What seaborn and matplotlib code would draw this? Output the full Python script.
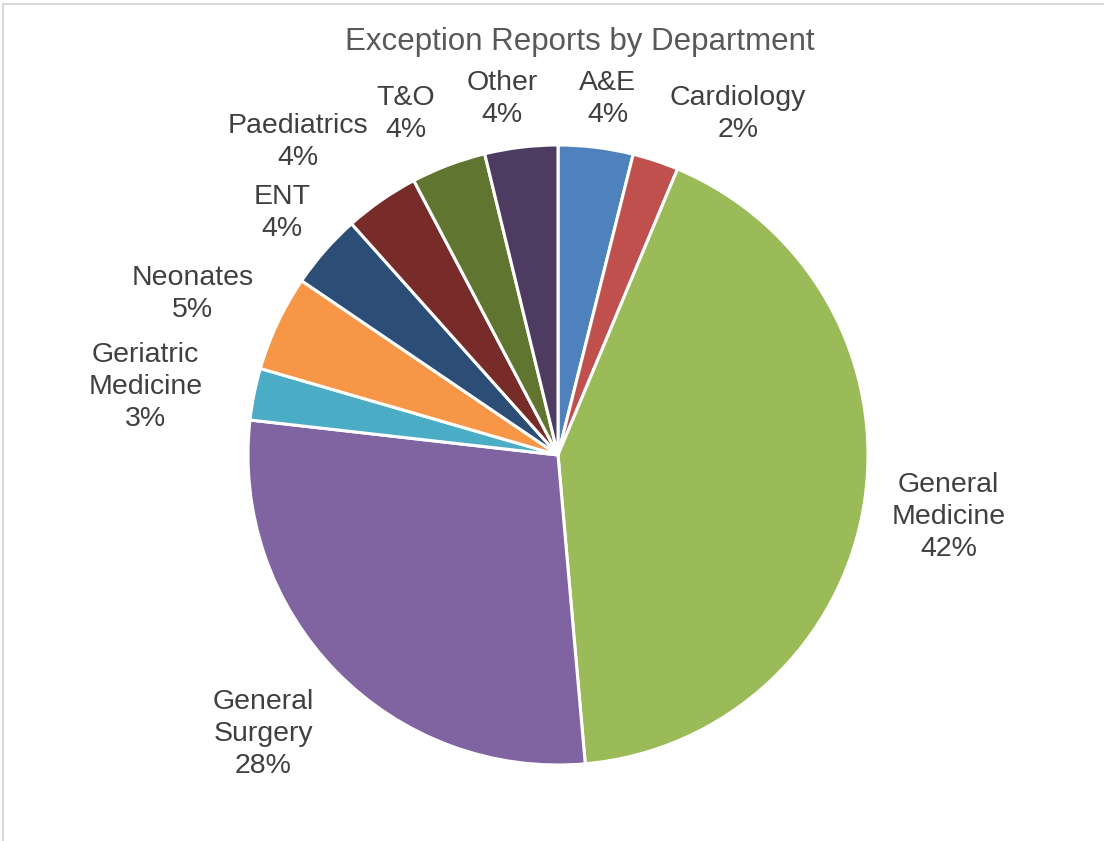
import matplotlib
matplotlib.use("Agg")
import matplotlib.pyplot as plt
from matplotlib.patches import Rectangle
import seaborn as sns

# shares (percent of reports)
departments = ['A&E', 'Cardiology', 'General\nMedicine', 'General\nSurgery',
               'Geriatric\nMedicine', 'Neonates', 'ENT', 'Paediatrics', 'T&O', 'Other']
shares = [3.9, 2.4, 42.3, 28.2, 2.7, 5.0, 3.9, 3.9, 3.9, 3.8]
shown_pct = [4, 2, 42, 28, 3, 5, 4, 4, 4, 4]
colors = ['#4F81BD', '#C0504D', '#9BBB59', '#8064A2', '#4BACC6',
          '#F79646', '#2C4D75', '#772C2A', '#5F7530', '#4D3B62']

# label centres in units of pie radius (Excel "best fit" placement)
label_xy = [(0.16, 1.15), (0.58, 1.10), (1.26, -0.20), (-0.95, -0.90),
            (-1.33, 0.22), (-1.18, 0.52), (-0.89, 0.78), (-0.84, 1.01),
            (-0.49, 1.10), (-0.18, 1.15)]

sns.set_theme(style="white")
plt.rcParams['font.family'] = ['Liberation Sans', 'DejaVu Sans']

W, H = 1104, 841
fig = plt.figure(figsize=(W / 100, H / 100), dpi=100)
cx, cy, r = 558, 455, 310
ax = fig.add_axes([(cx - r) / W, 1 - (cy + r) / H, 2 * r / W, 2 * r / H])

ax.pie(shares, colors=colors, startangle=90, counterclock=False,
       wedgeprops=dict(edgecolor='white', linewidth=2.2))
ax.set_xlim(-1, 1)
ax.set_ylim(-1, 1)
ax.axis('off')

for name, p, (lx, ly) in zip(departments, shown_pct, label_xy):
    ax.text(lx, ly, f'{name}\n{p}%', ha='center', va='center', fontsize=20.5,
            color='#404040', linespacing=1.3, clip_on=False)

fig.text(580 / W, 1 - 42 / H, 'Exception Reports by Department', ha='center',
         va='center', fontsize=22.5, color='#595959')

fig.patches.append(Rectangle((3 / W, -0.05), 1.2, 1.05 - 4 / H, transform=fig.transFigure,
                             fill=False, edgecolor='#D9D9D9', linewidth=1.5))

fig.savefig('out.png', dpi=100, facecolor='white')
